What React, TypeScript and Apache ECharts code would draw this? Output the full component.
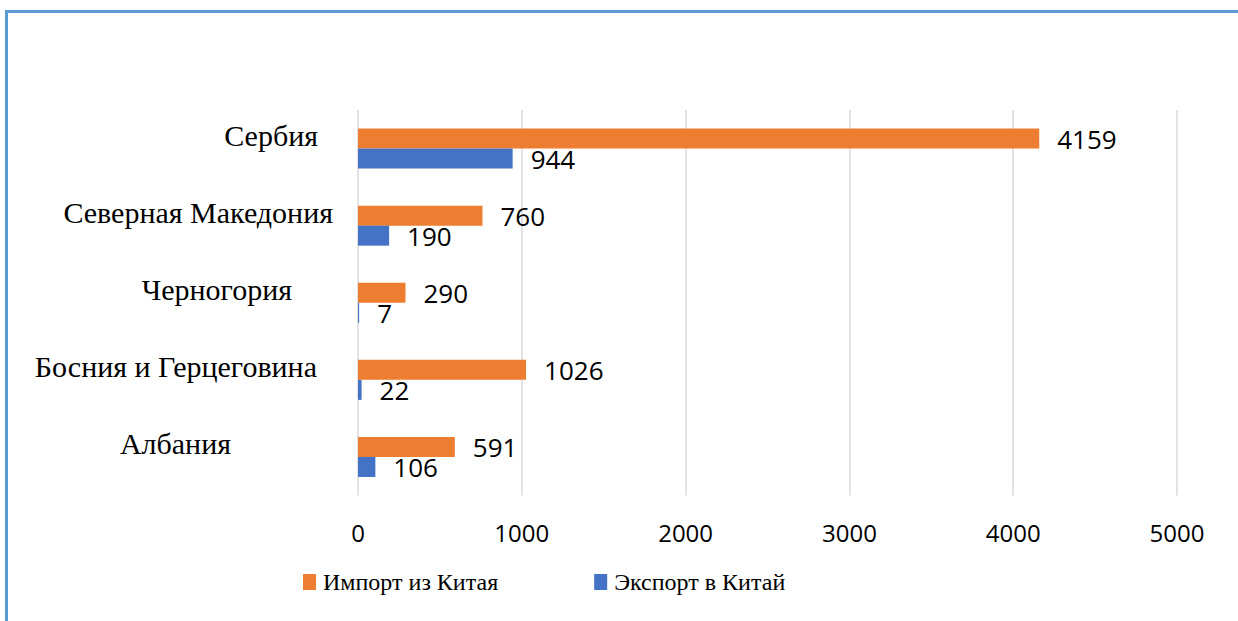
import React, { useEffect, useRef } from "react";
import * as echarts from "echarts";

const categories = ["Сербия", "Северная Македония", "Черногория", "Босния и Герцеговина", "Албания"];
const importValues = [4159, 760, 290, 1026, 591];
const exportValues = [944, 190, 7, 22, 106];
const labelRightPad = [15, 0, 41, 16, 102];
const xTicks = { min: 0, max: 5000, interval: 1000 };
const seriesNames = ["Импорт из Китая", "Экспорт в Китай"];

export default function App() {
  const ref = useRef<HTMLDivElement>(null);
  useEffect(() => {
    if (!ref.current) return;
    const chart = echarts.init(ref.current, undefined, { renderer: "svg" });
    const labelStyle = {
      show: true,
      position: "right",
      distance: 18,
      color: "#000",
      fontFamily: "Open Sans",
      fontSize: 26,
    };
    chart.setOption({
      animation: false,
      backgroundColor: "#fff",
      grid: { left: 358, right: 61, top: 110, bottom: 125.5, containLabel: false },
      legend: {
        left: 298,
        top: 565,
        padding: 5,
        itemWidth: 13,
        itemHeight: 16,
        itemGap: 96,
        icon: "rect",
        textStyle: { fontFamily: "Liberation Serif", fontSize: 24, color: "#000", padding: [0, 0, 0, 2] },
        data: seriesNames,
      },
      xAxis: {
        type: "value",
        min: xTicks.min,
        max: xTicks.max,
        interval: xTicks.interval,
        axisLine: { show: false },
        axisTick: { show: false },
        splitLine: { show: true, lineStyle: { color: "#D9D9D9", width: 1.5 } },
        axisLabel: {
          margin: 25,
          color: "#000",
          fontFamily: "Open Sans",
          fontSize: 24,
          formatter: (v: number) => String(v),
        },
      },
      yAxis: {
        type: "category",
        inverse: true,
        data: categories.map((c, i) => ({
          value: c,
          textStyle: {
            padding: [0, labelRightPad[i], 0, 0],
            verticalAlign: "bottom",
            lineHeight: 26,
            fontFamily: "Liberation Serif",
            fontSize: 30,
            color: "#000",
          },
        })),
        axisLine: { show: false },
        axisTick: { show: false },
        axisLabel: {
          margin: 25,
          color: "#000",
          fontFamily: "Liberation Serif",
          fontSize: 30,
          verticalAlign: "bottom",
          lineHeight: 26,
        },
      },
      series: [
        {
          name: seriesNames[0],
          type: "bar",
          data: importValues,
          barWidth: 20,
          barGap: "0%",
          itemStyle: { color: "#ED7D31" },
          label: labelStyle,
        },
        {
          name: seriesNames[1],
          type: "bar",
          data: exportValues,
          barWidth: 20,
          barGap: "0%",
          itemStyle: { color: "#4472C4" },
          label: labelStyle,
        },
      ],
      graphic: [
        {
          type: "polyline",
          shape: { points: [[6.5, 621], [6.5, 11.5], [1238, 11.5]] },
          style: { stroke: "#5B9BD5", lineWidth: 3, fill: null },
          silent: true,
        },
      ],
    });
    return () => chart.dispose();
  }, []);
  return (
    <div
      ref={ref}
      style={{ position: "absolute", left: 0, top: 0, width: 1238, height: 621 }}
    />
  );
}
